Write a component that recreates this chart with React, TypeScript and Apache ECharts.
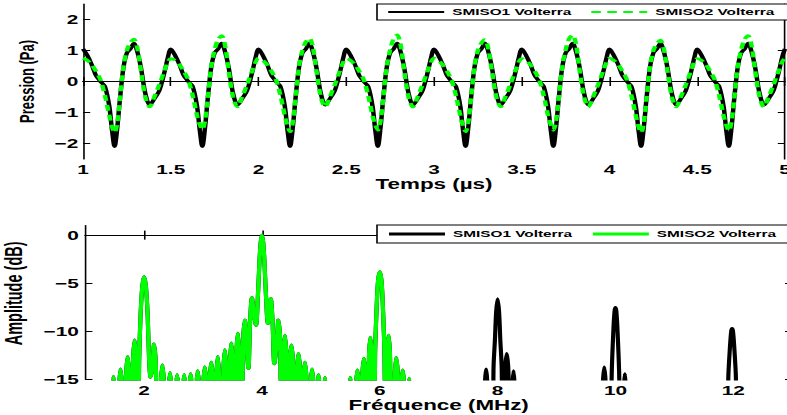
import React, { useEffect, useRef } from "react";
import * as echarts from "echarts";

// The reference figure is horizontally stretched; the chart is drawn in a narrower
// box and stretched with a CSS transform to reproduce that look.
const CHART_W = 492;
const CHART_H = 415;
const SCALE_X = 787 / CHART_W;

const FONT = '"Liberation Sans", Arial, Helvetica, sans-serif';

// ---------- Top panel: pressure vs time ----------
const periodStartsUs = [1, 1.5, 2, 2.5, 3, 3.5, 4, 4.5];
const phaseOffsetsUs = [
  0, 0.025, 0.05, 0.075, 0.1, 0.125, 0.15, 0.165, 0.18, 0.195, 0.21, 0.23, 0.25,
  0.27, 0.29, 0.31, 0.33, 0.355, 0.38, 0.405, 0.435, 0.465, 0.485,
];
const lastTimeUs = 5;

const smiso1Pressure = [
  1.05, 0.84, 0.54, 0.18, 0.0, -0.16, -0.8, -1.55, -2.1, -1.5, -0.6, 0.43, 0.92, 1.05, 1.24, 0.95, 0.45, -0.38, -0.76, -0.57, -0.29, 0.32, 0.81,
  1.05, 0.84, 0.54, 0.18, 0.0, -0.16, -0.8, -1.55, -2.1, -1.5, -0.6, 0.43, 0.92, 1.05, 1.24, 0.95, 0.45, -0.38, -0.76, -0.57, -0.29, 0.32, 0.81,
  1.05, 0.84, 0.54, 0.18, 0.0, -0.16, -0.8, -1.55, -2.1, -1.5, -0.6, 0.43, 0.92, 1.05, 1.24, 0.95, 0.45, -0.38, -0.76, -0.57, -0.29, 0.32, 0.81,
  1.05, 0.84, 0.54, 0.18, 0.0, -0.16, -0.8, -1.55, -2.1, -1.5, -0.6, 0.43, 0.92, 1.05, 1.24, 0.95, 0.45, -0.38, -0.76, -0.57, -0.29, 0.32, 0.81,
  1.05, 0.84, 0.54, 0.18, 0.0, -0.16, -0.8, -1.55, -2.1, -1.5, -0.6, 0.43, 0.92, 1.05, 1.24, 0.95, 0.45, -0.38, -0.76, -0.57, -0.29, 0.32, 0.81,
  1.05, 0.84, 0.54, 0.18, 0.0, -0.16, -0.8, -1.55, -2.1, -1.5, -0.6, 0.43, 0.92, 1.05, 1.24, 0.95, 0.45, -0.38, -0.76, -0.57, -0.29, 0.32, 0.81,
  1.05, 0.84, 0.54, 0.18, 0.0, -0.16, -0.8, -1.55, -2.1, -1.5, -0.6, 0.43, 0.92, 1.05, 1.24, 0.95, 0.45, -0.38, -0.76, -0.57, -0.29, 0.32, 0.81,
  1.05, 0.84, 0.54, 0.18, 0.0, -0.16, -0.8, -1.55, -2.1, -1.5, -0.6, 0.43, 0.92, 1.05, 1.24, 0.95, 0.45, -0.38, -0.76, -0.57, -0.29, 0.32, 0.81,
  1.05,
];

const smiso2Pressure = [
  0.75, 0.68, 0.54, 0.32, 0.05, -0.45, -1.1, -1.45, -1.65, -1.35, -0.6, 0.45, 1.0, 1.25, 1.37, 1.07, 0.35, -0.5, -0.82, -0.52, -0.1, 0.36, 0.65,
  0.74, 0.68, 0.54, 0.32, 0.05, -0.45, -1.1, -1.38, -1.55, -1.27, -0.6, 0.45, 1.02, 1.36, 1.48, 1.15, 0.35, -0.5, -0.82, -0.52, -0.1, 0.36, 0.65,
  0.75, 0.68, 0.54, 0.32, 0.05, -0.45, -1.1, -1.43, -1.62, -1.33, -0.6, 0.45, 1.0, 1.28, 1.4, 1.1, 0.35, -0.5, -0.82, -0.52, -0.1, 0.36, 0.65,
  0.74, 0.68, 0.54, 0.32, 0.05, -0.45, -1.1, -1.39, -1.57, -1.29, -0.6, 0.45, 1.02, 1.38, 1.5, 1.18, 0.35, -0.5, -0.82, -0.52, -0.1, 0.36, 0.65,
  0.75, 0.68, 0.54, 0.32, 0.05, -0.45, -1.1, -1.43, -1.62, -1.33, -0.6, 0.45, 1.0, 1.24, 1.35, 1.05, 0.35, -0.5, -0.82, -0.52, -0.1, 0.36, 0.65,
  0.74, 0.68, 0.54, 0.32, 0.05, -0.45, -1.1, -1.39, -1.57, -1.29, -0.6, 0.45, 1.02, 1.38, 1.5, 1.18, 0.35, -0.5, -0.82, -0.52, -0.1, 0.36, 0.65,
  0.75, 0.68, 0.54, 0.32, 0.05, -0.45, -1.1, -1.45, -1.65, -1.35, -0.6, 0.45, 1.0, 1.22, 1.33, 1.04, 0.35, -0.5, -0.82, -0.52, -0.1, 0.36, 0.65,
  0.74, 0.68, 0.54, 0.32, 0.05, -0.45, -1.1, -1.4, -1.59, -1.3, -0.6, 0.45, 1.02, 1.36, 1.48, 1.15, 0.35, -0.5, -0.82, -0.52, -0.1, 0.36, 0.65,
  0.75,
];

const pressureTicks = [-2, -1, 0, 1, 2];

// ---------- Bottom panel: spectrum ----------
// [frequency MHz, amplitude dB]; values below -15 dB fall outside the axis (clipped)
const lowBandSpectrum: number[][] = [
  [1.4, -30],
  [1.45, -17.5], [1.48, -14.7], [1.51, -17.5], [1.54, -30],
  [1.57, -16.5], [1.6, -13.9], [1.63, -16.5], [1.66, -30],
  [1.69, -15.3], [1.72, -12.6], [1.75, -15.3], [1.78, -30],
  [1.81, -13.5], [1.84, -10.9], [1.865, -13.5], [1.89, -30],
  [1.915, -13.3], [1.94, -8.3], [1.97, -5.3], [2.0, -4.3], [2.03, -5.3], [2.06, -8.3], [2.085, -13.0], [2.11, -14.8],
  [2.14, -13.8], [2.17, -11.3], [2.2, -13.8], [2.24, -30],
  [2.28, -16.0], [2.31, -13.5], [2.34, -16.0], [2.375, -30],
  [2.41, -16.8], [2.44, -14.3], [2.47, -16.8], [2.495, -30],
  [2.53, -17.0], [2.56, -14.5], [2.59, -17.0], [2.615, -30],
  [2.65, -17.0], [2.68, -14.5], [2.71, -17.0], [2.735, -30],
  [2.76, -16.9], [2.79, -14.4], [2.82, -16.9], [2.85, -30],
  [2.88, -16.6], [2.91, -14.1], [2.94, -16.6], [2.97, -30],
  [3.0, -16.2], [3.03, -13.7], [3.06, -16.2], [3.085, -30],
  [3.11, -15.7], [3.14, -13.2], [3.17, -15.7], [3.195, -30],
  [3.225, -15.1], [3.25, -12.6], [3.275, -15.1], [3.31, -30],
  [3.345, -14.4], [3.37, -11.9], [3.395, -14.4], [3.42, -30],
  [3.455, -13.7], [3.48, -11.2], [3.505, -13.7], [3.53, -30],
  [3.565, -12.7], [3.59, -10.2], [3.615, -12.7], [3.645, -30],
  [3.68, -11.3], [3.71, -8.8], [3.74, -11.5], [3.77, -13.9],
  [3.8, -8.8], [3.83, -6.5], [3.86, -8.0], [3.9, -9.4],
  [3.93, -6.5], [3.96, -2.5], [3.98, -0.7], [4.0, 0], [4.02, -0.7], [4.04, -2.5], [4.07, -6.5], [4.1, -9.2],
  [4.125, -8.0], [4.15, -6.6], [4.18, -9.0], [4.21, -13.4],
  [4.25, -11.3], [4.28, -8.8], [4.31, -11.3], [4.34, -30],
  [4.365, -12.9], [4.39, -10.4], [4.415, -12.9], [4.445, -30],
  [4.47, -13.9], [4.5, -11.4], [4.53, -13.9], [4.56, -30],
  [4.59, -14.8], [4.62, -12.3], [4.65, -14.8], [4.675, -30],
  [4.7, -15.7], [4.73, -13.2], [4.76, -15.7], [4.79, -30],
  [4.82, -16.4], [4.85, -13.9], [4.88, -16.4], [4.905, -30],
  [4.93, -17.0], [4.96, -14.5], [4.99, -17.0], [5.015, -30],
  [5.04, -17.3], [5.07, -14.8], [5.1, -17.3], [5.14, -30],
  [5.44, -30],
  [5.47, -17.3], [5.5, -14.8], [5.53, -17.3], [5.56, -30],
  [5.59, -16.5], [5.62, -14.0], [5.65, -16.5], [5.675, -30],
  [5.7, -15.3], [5.73, -12.8], [5.76, -15.3], [5.79, -30],
  [5.815, -13.1], [5.84, -10.6], [5.865, -13.1], [5.895, -30],
  [5.92, -12.5], [5.945, -7.8], [5.97, -4.8], [6.0, -3.8], [6.03, -4.8], [6.055, -7.8], [6.08, -12.5], [6.105, -30],
  [6.125, -12.9], [6.15, -10.4], [6.175, -12.9], [6.21, -30],
  [6.25, -15.2], [6.28, -12.7], [6.31, -15.2], [6.335, -30],
  [6.36, -16.5], [6.39, -14.0], [6.42, -16.5], [6.445, -30],
  [6.47, -17.4], [6.5, -14.9], [6.53, -17.4], [6.56, -30],
];

const smiso1Harmonics: number[][] = [
  [7.76, -30],
  [7.785, -15.5], [7.805, -13.9], [7.825, -15.5], [7.85, -30],
  [7.915, -30], [7.93, -14.0], [7.955, -10.8], [7.975, -8.0], [8.0, -6.6], [8.025, -8.0], [8.045, -10.8], [8.07, -14.0], [8.09, -30],
  [8.125, -14.5], [8.155, -12.3], [8.185, -14.5], [8.215, -30],
  [8.25, -16.0], [8.27, -14.1], [8.29, -16.0], [8.32, -30],
  [9.75, -30], [9.785, -15.8], [9.81, -13.7], [9.835, -15.8], [9.86, -30],
  [9.925, -30], [9.935, -15.0], [9.965, -9.9], [9.985, -7.9], [10.0, -7.5], [10.015, -7.9], [10.035, -9.9], [10.065, -15.0], [10.08, -30],
  [10.135, -30], [10.145, -16.0], [10.16, -14.4], [10.175, -16.0], [10.19, -30],
  [11.9, -30], [11.915, -15.0], [11.945, -11.5], [11.965, -10.0], [11.98, -9.7], [11.995, -10.0], [12.015, -11.5], [12.045, -15.0], [12.06, -30],
  [12.9, -30],
];

const freqTicks = [2, 4, 6, 8, 10, 12];
const ampTicks = [-15, -10, -5, 0];

const SERIES1 = "SMISO1 Volterra";
const SERIES2 = "SMISO2 Volterra";
const GREEN = "#00ff00";

const minusFmt = (v: number) => String(v).replace("-", "\u2212");

function App() {
  const ref = useRef<HTMLDivElement>(null);

  useEffect(() => {
    if (!ref.current) return;
    const chart = echarts.init(ref.current, undefined, { renderer: "svg" });

    const timeUs: number[] = [];
    periodStartsUs.forEach((s) => phaseOffsetsUs.forEach((o) => timeUs.push(+(s + o).toFixed(3))));
    timeUs.push(lastTimeUs);

    const axisLine = { show: true, lineStyle: { color: "#000", width: 1 } };
    const tick = { show: true, inside: true, length: 4.5, lineStyle: { color: "#000", width: 1 } };
    const label = { color: "#000", fontSize: 13, fontWeight: "bold" as const, fontFamily: FONT };
    const nameStyle = { color: "#000", fontSize: 14, fontWeight: "bold" as const, fontFamily: FONT };

    const legendBase = {
      orient: "horizontal" as const,
      left: 377 / SCALE_X,
      width: 320,
      itemWidth: 35,
      itemHeight: 12,
      itemGap: 11.5,
      selectedMode: false,
      borderColor: "#000",
      borderWidth: 1,
      borderRadius: 0,
      backgroundColor: "#fff",
      itemStyle: { opacity: 0, borderWidth: 0 },
      textStyle: { color: "#000", fontSize: 9.6, fontWeight: "bold" as const, fontFamily: FONT },
    };

    chart.setOption({
      animation: false,
      backgroundColor: "#fff",
      textStyle: { fontFamily: FONT },
      grid: [
        { left: 83 / SCALE_X, top: 4, width: 702 / SCALE_X, height: 155, outerBoundsMode: "none", containLabel: false },
        { left: 85.2 / SCALE_X, top: 225.5, width: 707 / SCALE_X, height: 153.8, outerBoundsMode: "none", containLabel: false },
      ],
      legend: [
        {
          ...legendBase,
          top: 4,
          padding: [3, 14, 3, 6],
          data: [{ name: SERIES1 }, { name: SERIES2 }],
        },
        {
          ...legendBase,
          top: 225,
          padding: [4, 14, 4, 6],
          data: [
            { name: SERIES1, lineStyle: { type: "solid", color: "#000", width: 3 } },
            { name: SERIES2, lineStyle: { type: "solid", color: GREEN, width: 3 } },
          ],
        },
      ],
      xAxis: [
        {
          type: "value", gridIndex: 0, position: "bottom", min: 1, max: 5, interval: 0.5,
          axisLine, axisTick: tick, splitLine: { show: false },
          axisLabel: { ...label, margin: 4 },
          name: "Temps (µs)", nameLocation: "middle", nameGap: 17, nameTextStyle: nameStyle,
        },
        {
          type: "value", gridIndex: 0, position: "top", min: 1, max: 5, interval: 0.5,
          axisLine, axisTick: tick, splitLine: { show: false }, axisLabel: { show: false },
        },
        {
          type: "value", gridIndex: 1, position: "bottom", min: 1, max: 13,
          axisLine, axisTick: { ...tick, customValues: freqTicks }, splitLine: { show: false },
          axisLabel: { ...label, margin: 5, customValues: freqTicks },
          name: "Fréquence (MHz)", nameLocation: "middle", nameGap: 18, nameTextStyle: nameStyle,
        },
        {
          type: "value", gridIndex: 1, position: "top", min: 1, max: 13,
          axisLine, axisTick: { ...tick, customValues: freqTicks }, splitLine: { show: false },
          axisLabel: { show: false, customValues: freqTicks },
        },
      ],
      yAxis: [
        {
          type: "value", gridIndex: 0, position: "left", min: -2.5, max: 2.5,
          axisLine, axisTick: { ...tick, customValues: pressureTicks }, splitLine: { show: false },
          axisLabel: { ...label, margin: 3, customValues: pressureTicks, formatter: minusFmt },
          name: "Pression (Pa)", nameLocation: "middle", nameGap: 28,
          nameTextStyle: { ...nameStyle, fontSize: 13 },
        },
        {
          type: "value", gridIndex: 0, position: "right", min: -2.5, max: 2.5,
          axisLine, axisTick: { ...tick, customValues: pressureTicks }, splitLine: { show: false },
          axisLabel: { show: false, customValues: pressureTicks },
        },
        {
          type: "value", gridIndex: 1, position: "left", min: -15, max: 1,
          axisLine, axisTick: { ...tick, customValues: ampTicks }, splitLine: { show: false },
          axisLabel: { ...label, margin: 4, customValues: ampTicks, formatter: minusFmt },
          name: "Amplitude (dB)", nameLocation: "middle", nameGap: 31,
          nameTextStyle: { ...nameStyle, fontSize: 14.5, padding: [0, 0, 0, 18] },
        },
        {
          type: "value", gridIndex: 1, position: "right", min: -15, max: 1,
          axisLine, axisTick: { ...tick, customValues: ampTicks }, splitLine: { show: false },
          axisLabel: { show: false, customValues: ampTicks },
        },
      ],
      series: [
        {
          type: "line", name: SERIES1, xAxisIndex: 0, yAxisIndex: 0,
          data: timeUs.map((t, i) => [t, smiso1Pressure[i]]),
          symbol: "none", showSymbol: false, smooth: 0.3,
          lineStyle: { color: "#000", width: 2.8 }, itemStyle: { color: "#000" },
        },
        {
          type: "line", name: SERIES2, xAxisIndex: 0, yAxisIndex: 0,
          data: timeUs.map((t, i) => [t, smiso2Pressure[i]]),
          symbol: "none", showSymbol: false, smooth: 0.3,
          lineStyle: { color: GREEN, width: 2.8, type: [6, 4] }, itemStyle: { color: GREEN },
        },
        {
          type: "line", name: SERIES1, xAxisIndex: 2, yAxisIndex: 2,
          data: [...lowBandSpectrum, ...smiso1Harmonics],
          symbol: "none", showSymbol: false, smooth: 0.3,
          lineStyle: { color: "#000", width: 2.6 }, itemStyle: { color: "#000" },
        },
        {
          type: "line", name: SERIES2, xAxisIndex: 2, yAxisIndex: 2,
          data: lowBandSpectrum,
          symbol: "none", showSymbol: false, smooth: 0.3,
          lineStyle: { color: GREEN, width: 2.6 }, itemStyle: { color: GREEN },
        },
      ],
    });

    return () => chart.dispose();
  }, []);

  return (
    <div
      style={{
        position: "fixed", left: 0, top: 0, width: 787, height: 415,
        overflow: "hidden", background: "#fff",
      }}
    >
      <div
        ref={ref}
        style={{
          width: CHART_W, height: CHART_H,
          transform: `scaleX(${SCALE_X})`, transformOrigin: "0 0",
        }}
      />
    </div>
  );
}

export default App;
